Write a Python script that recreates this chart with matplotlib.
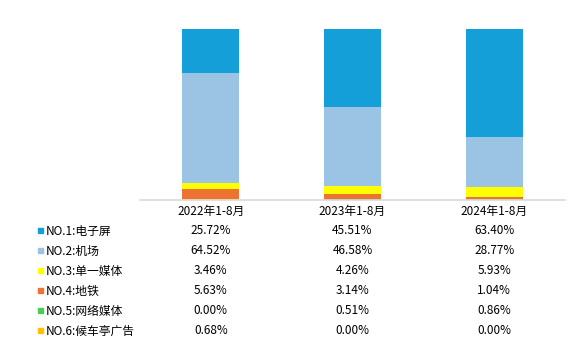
import matplotlib.pyplot as plt
from matplotlib.patches import Rectangle

plt.rcParams['font.family'] = ['Noto Sans CJK SC', 'DejaVu Sans']

# Data.
years = ['2022年1-8月', '2023年1-8月', '2024年1-8月']
series = ['NO.1:电子屏', 'NO.2:机场', 'NO.3:单一媒体', 'NO.4:地铁', 'NO.5:网络媒体', 'NO.6:候车亭广告']
values = {
    'NO.1:电子屏': [25.72, 45.51, 63.40],
    'NO.2:机场': [64.52, 46.58, 28.77],
    'NO.3:单一媒体': [3.46, 4.26, 5.93],
    'NO.4:地铁': [5.63, 3.14, 1.04],
    'NO.5:网络媒体': [0.00, 0.51, 0.86],
    'NO.6:候车亭广告': [0.68, 0.00, 0.00],
}
colors = ['#149fd9', '#9bc3e4', '#ffff00', '#ed7332', '#4ccc55', '#ffc000']

W, H = 569, 352
fig = plt.figure(figsize=(W / 100, H / 100), dpi=100)
ax = fig.add_axes([140 / W, 1 - 200 / H, 425 / W, 171 / H])

# Stack from the bottom: last series first.
x = range(len(years))
bottom = [0.0] * len(years)
for name, c in reversed(list(zip(series, colors))):
    vals = values[name]
    ax.bar(x, vals, width=0.4, bottom=bottom, color=c, edgecolor='none')
    bottom = [b + v for b, v in zip(bottom, vals)]

ax.set_xlim(-0.5, len(years) - 0.5)
ax.set_ylim(0, 100)
ax.set_xticks([])
ax.set_yticks([])
for s in ['left', 'right', 'top']:
    ax.spines[s].set_visible(False)
ax.spines['bottom'].set_color('#d9d9d9')
ax.spines['bottom'].set_linewidth(1.2)

# Data table under the chart.
fs = 8.5
col_x = [(140 + 425 * (i + 0.5) / len(years)) / W for i in range(len(years))]
for cx, yr in zip(col_x, years):
    fig.text(cx, 1 - 211 / H, yr, ha='center', va='center', fontsize=fs)

for r, (name, c) in enumerate(zip(series, colors)):
    y = 231 + 20 * r
    fig.patches.append(Rectangle((38 / W, 1 - (y + 2) / H), 5 / W, 5 / H,
                                 transform=fig.transFigure, color=c))
    fig.text(46 / W, 1 - y / H, name, ha='left', va='center', fontsize=fs)
    for cx, v in zip(col_x, values[name]):
        fig.text(cx, 1 - y / H, '{:.2f}%'.format(v), ha='center', va='center', fontsize=fs)

plt.savefig('out.png', dpi=100)
